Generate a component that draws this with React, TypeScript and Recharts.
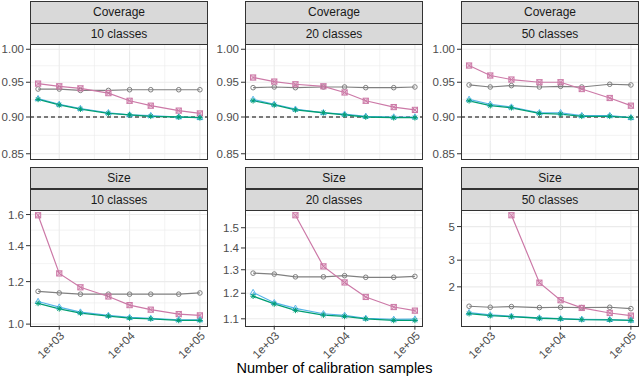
import React from "react";
import { CartesianGrid, Line, LineChart, ReferenceLine, XAxis, YAxis } from "recharts";

// calibration set sizes (x, log scale)
const SAMPLES = [500, 1000, 2000, 5000, 10000, 20000, 50000, 100000];
const X_TICKS = [1000, 10000, 100000];
const X_TICK_LABELS = ["1e+03", "1e+04", "1e+05"];
const CLASS_LABELS = ["10 classes", "20 classes", "50 classes"];

// Coverage
const COV10_GRAY = [0.94, 0.94, 0.938, 0.938, 0.939, 0.939, 0.939, 0.939];
const COV10_PINK = [0.948, 0.944, 0.941, 0.934, 0.923, 0.916, 0.909, 0.905];
const COV10_SKY = [0.926, 0.918, 0.912, 0.906, 0.903, 0.902, 0.9, 0.899];
const COV10_GREEN = [0.925, 0.917, 0.911, 0.905, 0.903, 0.901, 0.9, 0.899];

const COV20_GRAY = [0.942, 0.943, 0.942, 0.943, 0.943, 0.942, 0.942, 0.943];
const COV20_PINK = [0.957, 0.951, 0.947, 0.944, 0.935, 0.923, 0.914, 0.91];
const COV20_SKY = [0.925, 0.918, 0.911, 0.906, 0.904, 0.901, 0.9, 0.9];
const COV20_GREEN = [0.923, 0.917, 0.91, 0.906, 0.903, 0.9, 0.899, 0.899];

const COV50_GRAY = [0.946, 0.943, 0.945, 0.943, 0.944, 0.943, 0.947, 0.946];
const COV50_PINK = [0.975, 0.96, 0.954, 0.95, 0.95, 0.94, 0.927, 0.916];
const COV50_SKY = [0.925, 0.918, 0.914, 0.906, 0.906, 0.902, 0.902, 0.899];
const COV50_GREEN = [0.923, 0.916, 0.913, 0.905, 0.904, 0.901, 0.901, 0.899];

// Size
const SIZE10_GRAY = [1.151, 1.143, 1.137, 1.137, 1.137, 1.137, 1.137, 1.143];
const SIZE10_PINK = [1.595, 1.243, 1.171, 1.126, 1.085, 1.064, 1.044, 1.038];
const SIZE10_SKY = [1.102, 1.076, 1.053, 1.038, 1.029, 1.025, 1.019, 1.019];
const SIZE10_GREEN = [1.093, 1.068, 1.048, 1.035, 1.026, 1.023, 1.016, 1.016];

const SIZE20_GRAY = [1.285, 1.281, 1.269, 1.269, 1.274, 1.267, 1.267, 1.271];
const SIZE20_PINK = [null, null, 1.565, 1.315, 1.245, 1.185, 1.145, 1.131];
const SIZE20_SKY = [1.203, 1.162, 1.14, 1.119, 1.113, 1.102, 1.098, 1.099];
const SIZE20_GREEN = [1.188, 1.157, 1.132, 1.114, 1.109, 1.1, 1.094, 1.094];

const SIZE50_GRAY = [1.489, 1.466, 1.481, 1.459, 1.466, 1.459, 1.466, 1.436];
const SIZE50_PINK = [null, null, 5.94, 2.13, 1.632, 1.451, 1.344, 1.291];
const SIZE50_SKY = [1.351, 1.304, 1.278, 1.246, 1.233, 1.221, 1.215, 1.203];
const SIZE50_GREEN = [1.33, 1.29, 1.27, 1.24, 1.23, 1.215, 1.21, 1.2];

const COV_TICKS = [0.85, 0.9, 0.95, 1.0];
const SIZE10_TICKS = [1.0, 1.2, 1.4, 1.6];
const SIZE20_TICKS = [1.1, 1.2, 1.3, 1.4, 1.5];
const SIZE50_TICKS = [2, 3, 5];

const GRAY = "#808080";
const PINK = "#cc79a7";
const SKY = "#56b4e9";
const GREEN = "#009e73";
const BORDER = "#333333";
const GRID = "#ebebeb";
const FONT = "'Liberation Sans', Arial, Helvetica, sans-serif";

const X_DOMAIN: [number, number] = [383.7, 130330];
const COLS = [30, 245, 461];
const PANEL_W = 178;
const Y_AXIS_W = 30;

// ggplot-style minor breaks: midpoints (log space) between majors, extended one step each side
function minorBreaks(major: number[], domain: [number, number]) {
  const b = major.map(Math.log10);
  const bd = b[1] - b[0];
  const ext = [b[0] - bd, ...b, b[b.length - 1] + bd];
  const out: number[] = [];
  for (let i = 0; i < ext.length - 1; i++) out.push(10 ** ((ext[i] + ext[i + 1]) / 2));
  return out.filter((v) => v > domain[0] && v < domain[1]);
}

const Circle = (p: any) =>
  p.cy == null ? <g key={p.key} /> : <circle key={p.key} cx={p.cx} cy={p.cy} r={2.3} fill="none" stroke={GRAY} strokeWidth={1} />;

const SquareX = (p: any) => {
  if (p.cy == null) return <g key={p.key} />;
  const s = 2.6;
  const { cx, cy } = p;
  return (
    <g key={p.key} stroke={PINK} strokeWidth={1} fill="none">
      <rect x={cx - s} y={cy - s} width={2 * s} height={2 * s} fill={PINK} fillOpacity={0.3} />
      <path d={`M${cx - s},${cy - s}L${cx + s},${cy + s}M${cx - s},${cy + s}L${cx + s},${cy - s}`} />
    </g>
  );
};

const Triangle = (p: any) => {
  if (p.cy == null) return <g key={p.key} />;
  const { cx, cy } = p;
  return (
    <path
      key={p.key}
      d={`M${cx},${cy - 3.2}L${cx + 2.9},${cy + 1.9}L${cx - 2.9},${cy + 1.9}Z`}
      fill="none"
      stroke={SKY}
      strokeWidth={1}
    />
  );
};

const Star = (p: any) => {
  if (p.cy == null) return <g key={p.key} />;
  const { cx, cy } = p;
  const r = 2.8;
  const d = r * 0.707;
  return (
    <path
      key={p.key}
      d={`M${cx - r},${cy}L${cx + r},${cy}M${cx},${cy - r}L${cx},${cy + r}M${cx - d},${cy - d}L${cx + d},${cy + d}M${cx - d},${cy + d}L${cx + d},${cy - d}`}
      stroke={GREEN}
      strokeWidth={1}
    />
  );
};

const XTick = (p: any) => {
  const i = X_TICKS.indexOf(p.payload.value);
  return (
    <g transform={`translate(${p.x},${p.y - 1})`}>
      <text textAnchor="end" transform="rotate(-45)" dy="0.72em" fontSize={11.5} fill="#4d4d4d" fontFamily={FONT}>
        {X_TICK_LABELS[i]}
      </text>
    </g>
  );
};

function Strip({ left, top, h, label }: { left: number; top: number; h: number; label: string }) {
  return (
    <div
      style={{
        position: "absolute",
        left,
        top,
        width: PANEL_W,
        height: h + 1,
        boxSizing: "border-box",
        border: `1px solid ${BORDER}`,
        background: "#d9d9d9",
        display: "flex",
        alignItems: "center",
        justifyContent: "center",
        fontSize: 12,
        color: "#1a1a1a",
      }}
    >
      {label}
    </div>
  );
}

interface PanelProps {
  col: number;
  stripTop: number;
  panelTop: number;
  height: number;
  metric: string;
  gray: (number | null)[];
  pink: (number | null)[];
  sky: (number | null)[];
  green: (number | null)[];
  domain: [number, number];
  ticks: number[];
  digits: number;
  showX?: boolean;
  target?: boolean;
}

function Panel(props: PanelProps) {
  const { col, stripTop, panelTop, height, metric, domain, ticks, digits, showX, target } = props;
  const left = COLS[col];
  const h = (panelTop - stripTop) / 2;
  const data = SAMPLES.map((x, i) => ({
    x,
    gray: props.gray[i],
    pink: props.pink[i],
    sky: props.sky[i],
    green: props.green[i],
  }));
  const axisH = showX ? 48 : 0;
  return (
    <>
      <Strip left={left} top={stripTop} h={h} label={metric} />
      <Strip left={left} top={stripTop + h} h={h} label={CLASS_LABELS[col]} />
      <div style={{ position: "absolute", left: left - Y_AXIS_W, top: panelTop }}>
        <LineChart
          width={Y_AXIS_W + PANEL_W}
          height={height + axisH}
          data={data}
          margin={{ top: 0, right: 0, bottom: 0, left: 0 }}
        >
          <CartesianGrid
            horizontalValues={minorBreaks(ticks, domain)}
            verticalValues={minorBreaks(X_TICKS, X_DOMAIN)}
            stroke={GRID}
            strokeWidth={0.6}
          />
          <CartesianGrid horizontalValues={ticks} verticalValues={X_TICKS} stroke={GRID} strokeWidth={1.1} />
          <XAxis
            dataKey="x"
            type="number"
            scale="log"
            domain={X_DOMAIN}
            allowDataOverflow
            ticks={X_TICKS}
            interval={0}
            hide={!showX}
            height={axisH}
            axisLine={false}
            tickLine={{ stroke: BORDER }}
            tickSize={4}
            tick={<XTick />}
          />
          <YAxis
            type="number"
            scale="log"
            domain={domain}
            allowDataOverflow
            ticks={ticks}
            interval={0}
            width={Y_AXIS_W}
            axisLine={false}
            tickLine={{ stroke: BORDER }}
            tickSize={4}
            tickMargin={2}
            tick={{ fill: "#4d4d4d", fontSize: 11.5, fontFamily: FONT }}
            tickFormatter={(v: number) => v.toFixed(digits)}
          />
          {target && <ReferenceLine y={0.9} stroke="#000" strokeWidth={1.2} strokeDasharray="4 3" />}
          <Line dataKey="gray" stroke={GRAY} strokeWidth={1.2} dot={Circle} isAnimationActive={false} />
          <Line dataKey="pink" stroke={PINK} strokeWidth={1.2} dot={SquareX} isAnimationActive={false} />
          <Line dataKey="sky" stroke={SKY} strokeWidth={1.2} dot={Triangle} isAnimationActive={false} />
          <Line dataKey="green" stroke={GREEN} strokeWidth={1.3} dot={Star} isAnimationActive={false} />
        </LineChart>
      </div>
      <div
        style={{
          position: "absolute",
          left,
          top: panelTop,
          width: PANEL_W,
          height: height + 1,
          boxSizing: "border-box",
          border: `1px solid ${BORDER}`,
          pointerEvents: "none",
        }}
      />
    </>
  );
}

const COV_DOMAIN: [number, number] = [0.8431, 1.0082];

export default function App() {
  const top = { stripTop: 1, panelTop: 44.3, height: 115 };
  const bottom = { stripTop: 166.7, panelTop: 210.3, height: 115.7, showX: true };
  return (
    <div
      style={{
        position: "absolute",
        left: 0,
        top: 0,
        width: 640,
        height: 381,
        background: "#fff",
        fontFamily: FONT,
        overflow: "hidden",
      }}
    >
      <Panel col={0} {...top} metric="Coverage" gray={COV10_GRAY} pink={COV10_PINK} sky={COV10_SKY} green={COV10_GREEN} domain={COV_DOMAIN} ticks={COV_TICKS} digits={2} target />
      <Panel col={1} {...top} metric="Coverage" gray={COV20_GRAY} pink={COV20_PINK} sky={COV20_SKY} green={COV20_GREEN} domain={COV_DOMAIN} ticks={COV_TICKS} digits={2} target />
      <Panel col={2} {...top} metric="Coverage" gray={COV50_GRAY} pink={COV50_PINK} sky={COV50_SKY} green={COV50_GREEN} domain={COV_DOMAIN} ticks={COV_TICKS} digits={2} target />
      <Panel col={0} {...bottom} metric="Size" gray={SIZE10_GRAY} pink={SIZE10_PINK} sky={SIZE10_SKY} green={SIZE10_GREEN} domain={[0.9933, 1.6315]} ticks={SIZE10_TICKS} digits={1} />
      <Panel col={1} {...bottom} metric="Size" gray={SIZE20_GRAY} pink={SIZE20_PINK} sky={SIZE20_SKY} green={SIZE20_GREEN} domain={[1.0745, 1.5933]} ticks={SIZE20_TICKS} digits={1} />
      <Panel col={2} {...bottom} metric="Size" gray={SIZE50_GRAY} pink={SIZE50_PINK} sky={SIZE50_SKY} green={SIZE50_GREEN} domain={[1.1077, 6.434]} ticks={SIZE50_TICKS} digits={0} />
      <div
        style={{
          position: "absolute",
          left: 134.5,
          width: 400,
          top: 360,
          textAlign: "center",
          fontSize: 14.5,
          lineHeight: "16px",
          color: "#000",
        }}
      >
        Number of calibration samples
      </div>
    </div>
  );
}
